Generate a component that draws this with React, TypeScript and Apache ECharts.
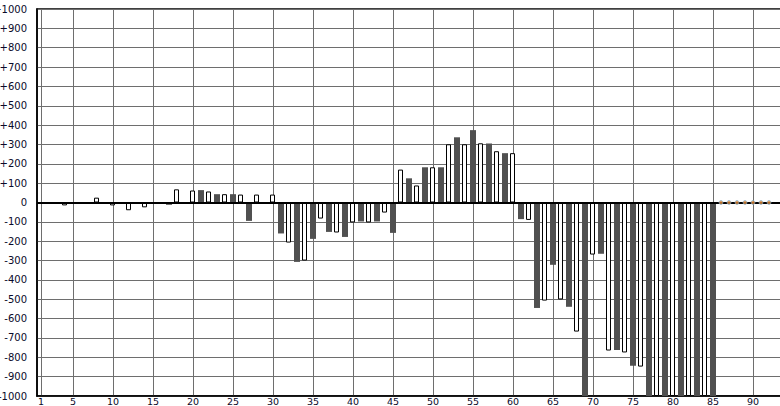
import React, { useEffect, useRef } from "react";
import * as echarts from "echarts";

// Bars at odd positions 1,3,...,85 (dark grey)
const oddPositions = Array.from({ length: 43 }, (_, i) => 1 + 2 * i);
const oddValues = [
  0, 0, 0, 0, 0, 0, 0, 0, -12, 0, 64, 43, 43, -95, 0,
  -160, -307, -188, -152, -178, -98, -98, -157, 125, 182, 182, 337, 374, 305, 255,
  -86, -545, -322, -539, -1000, -265, -762, -844, -1000, -1000, -1000, -1000, -1000,
];
// Bars at even positions 2,4,...,84 (white, outlined)
const evenPositions = Array.from({ length: 42 }, (_, i) => 2 + 2 * i);
const evenValues = [
  0, -15, 0, 25, -15, -40, -25, 0, 68, 62, 57, 43, 41, 41, 41,
  -207, -300, -83, -155, -103, -103, -52, 170, 88, 182, 301, 301, 306, 265, 255,
  -90, -507, -501, -667, -269, -765, -775, -848, -1000, -1000, -1000, -1000,
];
// Small markers on the zero line
const markerPositions = [86, 87, 88, 89, 90, 91, 92];
const markerValues = [0, 0, 0, 0, 0, 0, 0];
// X tick labels
const xTickValues = [1, 5, 10, 15, 20, 25, 30, 35, 40, 45, 50, 55, 60, 65, 70, 75, 80, 85, 90];

const FONT = "DejaVu Sans";
const LABEL_COLOR = "#0a0a2a";

export default function App() {
  const ref = useRef<HTMLDivElement>(null);
  useEffect(() => {
    document.body.style.margin = "0";
    const chart = echarts.init(ref.current!, null, { renderer: "svg" });
    chart.setOption({
      animation: false,
      backgroundColor: "#ffffff",
      grid: {
        left: 37,
        top: 9,
        width: 744,
        height: 387,
        containLabel: false,
        outerBoundsMode: "none",
        show: true,
        borderColor: "#000",
        borderWidth: 1.5,
        backgroundColor: "transparent",
      },
      xAxis: {
        type: "value",
        min: 0.5,
        max: 93.5,
        axisLine: { show: true, onZero: false, lineStyle: { color: "#000", width: 1.5 } },
        axisTick: { show: false, customValues: xTickValues },
        axisLabel: {
          customValues: xTickValues,
          fontFamily: FONT,
          fontSize: 9.5,
          lineHeight: 9,
          color: LABEL_COLOR,
          margin: 1,
        },
        splitLine: { show: true, lineStyle: { color: "#6e6e6e", width: 1 } },
      },
      yAxis: {
        type: "value",
        min: -1000,
        max: 1000,
        interval: 100,
        axisLine: { show: true, onZero: false, lineStyle: { color: "#000", width: 1.5 } },
        axisTick: { show: false },
        axisLabel: {
          fontFamily: FONT,
          fontSize: 10,
          color: LABEL_COLOR,
          margin: 10,
          formatter: (v: number) => (v > 0 ? "+" + v : String(v)),
        },
        splitLine: { show: true, lineStyle: { color: "#6e6e6e", width: 1 } },
      },
      series: [
        {
          type: "bar",
          name: "even",
          data: evenPositions.map((x, i) => [x, evenValues[i]]),
          barWidth: 5,
          barGap: "-100%",
          itemStyle: { color: "#ffffff", borderColor: "#000", borderWidth: 1 },
          markLine: {
            silent: true,
            symbol: "none",
            label: { show: false },
            lineStyle: { color: "#000", width: 2, type: "solid" },
            data: [{ yAxis: 0 }],
          },
        },
        {
          type: "bar",
          name: "odd",
          data: oddPositions.map((x, i) => [x, oddValues[i]]),
          barWidth: 6,
          barGap: "-100%",
          itemStyle: { color: "#505050" },
        },
        {
          type: "scatter",
          data: markerPositions.map((x, i) => [x, markerValues[i]]),
          symbol: "circle",
          symbolSize: 4,
          itemStyle: { color: "#e08a3a", borderColor: "#7ab4e0", borderWidth: 0.8 },
          z: 5,
        },
      ],
    });
    return () => chart.dispose();
  }, []);
  return <div ref={ref} style={{ width: 780, height: 406 }} />;
}
